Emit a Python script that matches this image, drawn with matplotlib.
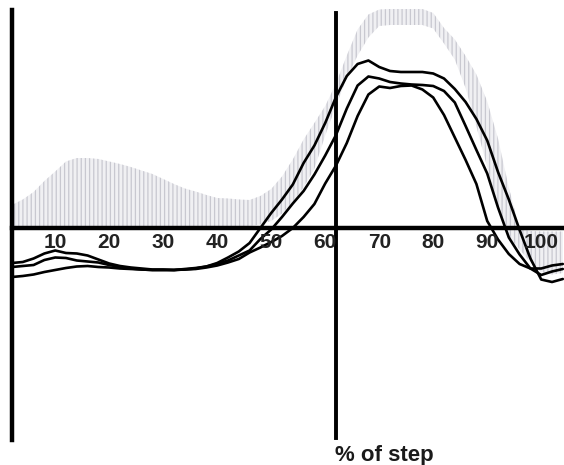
import matplotlib
matplotlib.use("Agg")
import matplotlib.pyplot as plt

plt.rcParams['hatch.linewidth'] = 0.9

# % of step (shared sampling grid)
percent_step = [0, 2, 4, 6, 8, 10, 12, 14, 16, 18, 20, 22, 24, 26, 28, 30, 32, 34, 36, 38,
                40, 42, 44, 46, 48, 50, 52, 54, 56, 58, 60, 62, 64, 66, 68, 70, 72, 74, 76, 78,
                80, 82, 84, 86, 88, 90, 92, 94, 96, 98, 100, 102]

# three measured curves
curve_a = [-9.8, -9.6, -9.3, -8.8, -8.4, -8.0, -7.7, -7.6, -7.8, -7.9, -8.1, -8.2, -8.3, -8.4,
           -8.4, -8.4, -8.3, -8.1, -7.7, -7.0, -5.9, -4.7, -3.0, 0.0, 3.0, 5.7, 8.7, 13.0,
           16.5, 21.0, 26.2, 30.4, 32.8, 33.5, 32.2, 31.4, 31.2, 31.2, 31.2, 30.9, 29.9, 27.8,
           25.2, 21.8, 17.5, 11.2, 5.7, -0.4, -6.1, -10.3, -10.8, -10.2]
curve_b = [-7.8, -7.6, -7.4, -6.4, -5.9, -6.0, -6.5, -6.7, -6.9, -7.4, -7.8, -8.1, -8.3, -8.4,
           -8.4, -8.4, -8.2, -8.0, -7.7, -7.2, -6.5, -5.5, -4.5, -2.2, -0.3, 2.2, 4.9, 7.4,
           10.7, 14.5, 18.6, 23.9, 28.5, 30.3, 29.9, 29.2, 28.9, 28.7, 28.6, 28.4, 27.4, 25.1,
           20.4, 15.6, 10.9, 4.1, -1.9, -5.3, -8.1, -9.4, -8.7, -8.2]
curve_c = [-7.0, -6.8, -6.1, -5.1, -4.5, -5.0, -5.1, -5.5, -6.3, -7.1, -7.6, -7.9, -8.1, -8.3,
           -8.3, -8.4, -8.3, -8.2, -7.9, -7.5, -6.9, -6.2, -4.9, -3.9, -2.8, -1.6, 0.0, 2.2,
           4.8, 8.9, 12.5, 17.0, 22.4, 26.7, 28.3, 28.0, 28.4, 28.5, 27.7, 26.1, 22.6, 18.1,
           13.6, 8.8, 1.4, -2.3, -5.2, -7.2, -8.1, -8.1, -7.5, -7.2]

# normative grey band
band_upper = [4.6, 5.7, 7.2, 9.4, 11.3, 13.3, 14.0, 14.0, 13.8, 13.3, 12.8, 12.2, 11.5, 10.8,
              9.8, 8.8, 7.9, 7.3, 6.6, 6.0, 5.9, 5.7, 5.6, 6.4, 7.8, 10.3, 13.7, 17.7,
              21.0, 24.4, 28.9, 34.5, 39.7, 42.7, 43.7, 43.8, 43.8, 43.8, 43.8, 43.0, 40.0, 37.7,
              34.4, 30.7, 25.3, 17.9, 8.1, -0.2, -0.6, -0.7, -0.7, -0.7]
band_lower = [0.0, 0.0, 0.0, 0.0, 0.0, 0.0, 0.0, 0.0, 0.0, 0.0, 0.0, 0.0, 0.0, 0.0,
              0.0, 0.0, 0.0, 0.0, 0.0, 0.0, 0.0, 0.3, 0.4, 0.7, 1.4, 2.9, 5.2, 8.1,
              11.9, 18.5, 24.5, 30.0, 34.5, 38.1, 40.4, 40.6, 40.6, 40.6, 40.6, 39.9, 36.9, 33.7,
              28.0, 20.3, 12.2, 4.0, -1.7, -4.3, -6.8, -8.8, -9.3, -9.0]

tick_values = [10, 20, 30, 40, 50, 60, 70, 80, 90, 100]
tick_labels = ["10", "20", "30", "40", "50", "60", "70", "80", "90", "100"]
xlabel_text = "% of step"

fig = plt.figure(figsize=(5.64, 4.65), dpi=100)
ax = fig.add_axes([0, 0, 1, 1])
ax.set_xlim(-2.22, 102.22)
ax.set_ylim(-47.4, 45.6)
ax.axis('off')

ax.fill_between(percent_step, band_lower, band_upper, facecolor='#f0f0f3',
                edgecolor='#c8c8d0', hatch='||||', linewidth=0, zorder=1)

for curve in (curve_a, curve_b, curve_c):
    ax.plot(percent_step, curve, color='black', lw=1.9, zorder=3,
            solid_joinstyle='round', solid_capstyle='round')

# axes lines
ax.axhline(0, xmin=0.021, xmax=1.0, color='black', lw=3.2, zorder=4)
ax.axvline(0, ymin=0.054, ymax=0.978, color='black', lw=3.2, zorder=4)
ax.axvline(60, ymin=0.058, ymax=0.972, color='black', lw=2.8, zorder=4)

for v, lab in zip(tick_values, tick_labels):
    ax.text(v - 2.0, -2.9, lab, ha='center', va='center', fontsize=15,
            fontweight='bold', family='Liberation Sans', color='#222222', zorder=5)

ax.text(68.9, -46.6, xlabel_text, ha='center', va='baseline', fontsize=16,
        fontweight='bold', family='Liberation Sans', color='#1a1a1a', zorder=5)

fig.savefig('out.png', dpi=100)
